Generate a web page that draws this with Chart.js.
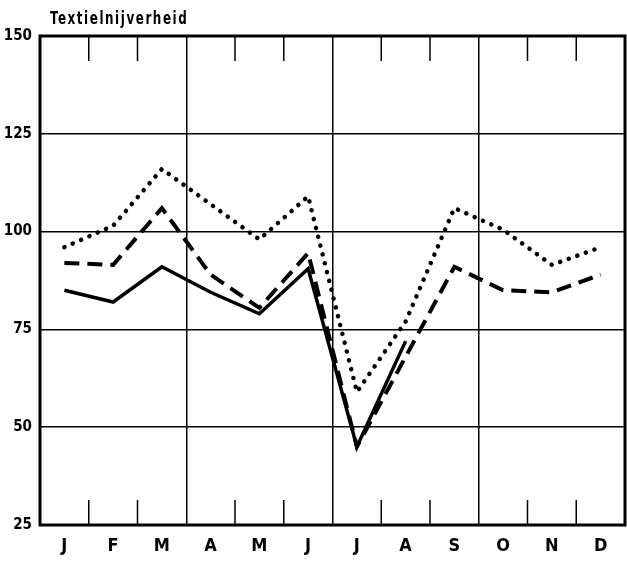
<!DOCTYPE html>
<html>
<head>
<meta charset="utf-8">
<script src="https://cdn.jsdelivr.net/npm/chart.js@4.4.0/dist/chart.umd.min.js"></script>
<style>
html,body{margin:0;padding:0;background:#fff;}
#wrap{width:627px;height:561px;}
</style>
</head>
<body>
<div id="wrap"><canvas id="c" width="627" height="561"></canvas></div>
<script>
const months = ['J','F','M','A','M','J','J','A','S','O','N','D'];
const yTicks = [25, 50, 75, 100, 125, 150];
const titleText = 'Textielnijverheid';
const solidSeries  = [85, 82, 91, 84.5, 79, 90.5, 45, 72, null, null, null, null];
const dashedSeries = [92, 91.5, 106, 89, 80.5, 94.5, 45, 68, 91, 85, 84.5, 89];
const dottedSeries = [96, 101.5, 116, 107, 98, 109, 59, 77, 106, 100.5, 91.5, 96];

const FONT = "'Liberation Sans Narrow', 'DejaVu Sans Condensed', 'Arial Narrow', sans-serif";

const framePlugin = {
  id: 'frame',
  beforeDatasetsDraw(chart) {
    const {ctx, chartArea: a, scales: {x}} = chart;
    ctx.save();
    ctx.strokeStyle = '#000';
    ctx.lineWidth = 1.5;
    const n = months.length;
    for (let i = 1; i < n; i++) {
      if (i % 3 === 0) continue;
      const px = (x.getPixelForValue(i - 1) + x.getPixelForValue(i)) / 2;
      ctx.beginPath();
      ctx.moveTo(px, a.top); ctx.lineTo(px, a.top + 25);
      ctx.moveTo(px, a.bottom); ctx.lineTo(px, a.bottom - 25);
      ctx.stroke();
    }
    ctx.lineWidth = 3;
    ctx.strokeRect(a.left, a.top, a.right - a.left, a.bottom - a.top);
    ctx.restore();
  },
  afterDraw(chart) {
    const {ctx, chartArea: a} = chart;
    ctx.save();
    ctx.fillStyle = '#000';
    ctx.font = "bold 17px " + FONT;
    try { ctx.letterSpacing = '2px'; } catch(e) {}
    ctx.textBaseline = 'alphabetic';
    ctx.textAlign = 'left';
    ctx.translate(a.left + 10, 24);
    ctx.scale(0.78, 1);
    ctx.fillText(titleText, 0, 0);
    ctx.restore();
  }
};

new Chart(document.getElementById('c'), {
  type: 'line',
  data: {
    labels: months,
    datasets: [
      { data: solidSeries, borderColor: '#000', borderWidth: 3.5, pointRadius: 0, tension: 0, fill: false, spanGaps: false, borderJoinStyle: 'miter' },
      { data: dashedSeries, borderColor: '#000', borderWidth: 4, borderDash: [15, 8], pointRadius: 0, tension: 0, fill: false },
      { data: dottedSeries, borderColor: '#000', borderWidth: 4.5, borderDash: [0.1, 9], borderCapStyle: 'round', pointRadius: 0, tension: 0, fill: false }
    ]
  },
  options: {
    responsive: false,
    animation: false,
    layout: { padding: { top: 36, right: 2, left: 0, bottom: 0 } },
    plugins: { legend: { display: false }, tooltip: { enabled: false }, title: { display: false } },
    scales: {
      x: {
        type: 'category',
        offset: true,
        grid: {
          offset: true,
          drawTicks: false,
          color: (c) => (c.index % 3 === 0 ? '#000' : 'rgba(0,0,0,0)'),
          lineWidth: 1.5
        },
        border: { display: false },
        ticks: { color: '#000', font: { family: FONT, size: 18, weight: 'bold' }, padding: 11, maxRotation: 0, autoSkip: false },
        afterFit(s) { s.height = 36; }
      },
      y: {
        min: 25, max: 150,
        afterBuildTicks(s) { s.ticks = yTicks.map(v => ({ value: v })); },
        grid: { color: '#000', lineWidth: 1.5, drawTicks: false },
        border: { display: false },
        ticks: { color: '#000', font: { family: FONT, size: 15, weight: 'bold' }, padding: 8 },
        afterFit(s) { s.width = 40; }
      }
    }
  },
  plugins: [framePlugin]
});
</script>
</body>
</html>
